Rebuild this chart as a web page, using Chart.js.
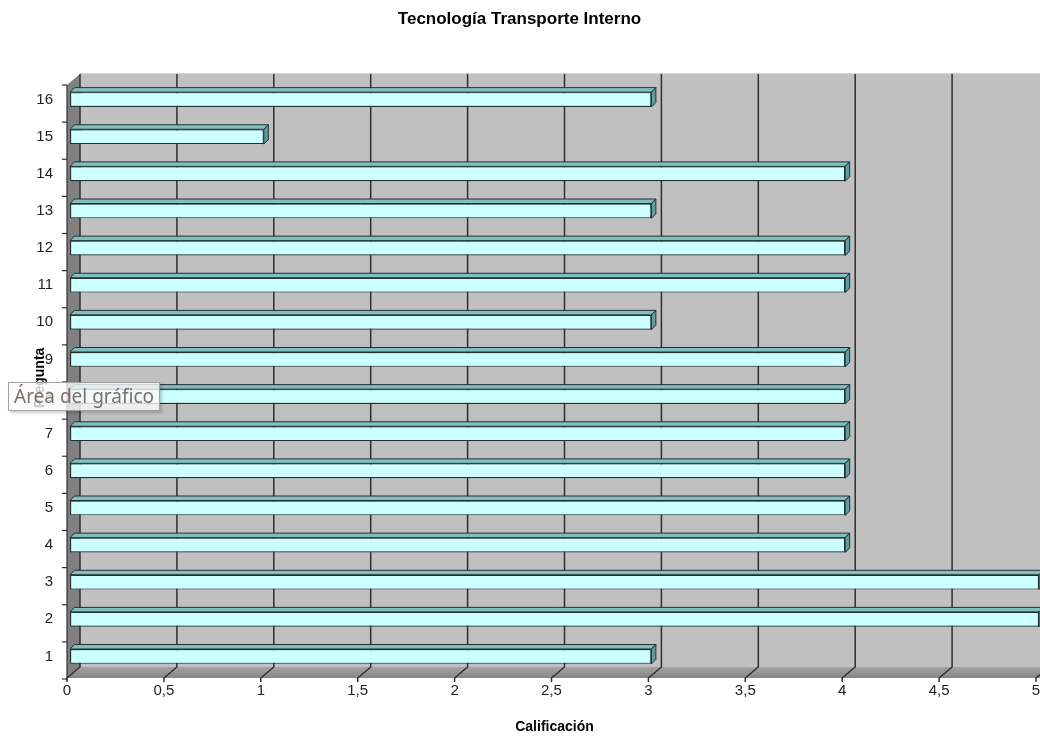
<!DOCTYPE html>
<html><head><meta charset="utf-8">
<script src="https://cdn.jsdelivr.net/npm/chart.js@4/dist/chart.umd.min.js"></script>
<style>
html,body{margin:0;padding:0;background:#fff;}
#wrap{position:relative;width:1040px;height:736px;overflow:hidden;}
#tip{position:absolute;left:8px;top:382px;height:27px;padding:0 5px;line-height:27px;
 font-family:"Noto Sans",sans-serif;font-size:19px;color:#7a7066;background:rgba(250,250,250,0.8);
 border:1px solid #a0a0a0;box-shadow:2px 2px 3px rgba(0,0,0,0.2);white-space:nowrap;letter-spacing:0px;}
</style></head><body>
<div id="wrap"><canvas id="c" width="1040" height="736"></canvas><div id="tip">Área del gráfico</div></div>
<script>
const categories = ['1','2','3','4','5','6','7','8','9','10','11','12','13','14','15','16'];
const calificacion = [3,5,5,4,4,4,4,4,4,3,4,4,3,4,1,3];
const xTickLabels = ['0','0,5','1','1,5','2','2,5','3','3,5','4','4,5','5'];
const chartTitle = 'Tecnología Transporte Interno';
const xTitle = 'Calificación';
const yTitle = 'Pregunta';

const FONT = '"Liberation Sans", Arial, sans-serif';

const box3d = {
  id: 'box3d',
  beforeDraw(chart) {
    const {ctx, chartArea: ca, scales: {x, y}} = chart;
    const W = chart.width;
    const fx = v => x.getPixelForValue(v) - 3;
    const bx = v => fx(v) + 13;
    const fTop = ca.top + 4, fBot = ca.bottom + 3, bTop = fTop - 11, bBot = fBot - 11;
    ctx.save();
    ctx.fillStyle = '#c0c0c0';
    ctx.fillRect(bx(0), bTop, W - bx(0), bBot - bTop);
    ctx.strokeStyle = '#d6d6d6'; ctx.lineWidth = 1;
    ctx.beginPath(); ctx.moveTo(bx(0), bTop - 0.5); ctx.lineTo(W, bTop - 0.5); ctx.stroke();
    ctx.fillStyle = '#808080';
    ctx.beginPath(); ctx.moveTo(fx(0), fTop); ctx.lineTo(bx(0), bTop); ctx.lineTo(bx(0), bBot); ctx.lineTo(fx(0), fBot); ctx.closePath(); ctx.fill();
    const g = ctx.createLinearGradient(0, bBot, 0, fBot);
    g.addColorStop(0, '#a4a4a4'); g.addColorStop(1, '#858585');
    ctx.fillStyle = g;
    ctx.beginPath(); ctx.moveTo(fx(0), fBot); ctx.lineTo(bx(0), bBot); ctx.lineTo(W, bBot); ctx.lineTo(W, fBot); ctx.closePath(); ctx.fill();
    ctx.strokeStyle = '#2f2f2f'; ctx.lineWidth = 1.5;
    x.ticks.forEach(t => {
      ctx.beginPath();
      ctx.moveTo(bx(t.value), bTop); ctx.lineTo(bx(t.value), bBot);
      ctx.lineTo(fx(t.value), fBot); ctx.lineTo(fx(t.value), fBot + 4);
      ctx.stroke();
    });
    ctx.lineWidth = 1.2;
    ctx.beginPath(); ctx.moveTo(fx(0), fTop); ctx.lineTo(fx(0), fBot + 2); ctx.stroke();
    const n = categories.length;
    const step = (ca.bottom - ca.top) / n;
    for (let k = 0; k <= n; k++) {
      const yy = ca.top + k * step + 4;
      ctx.beginPath(); ctx.moveTo(fx(0) - 5, yy); ctx.lineTo(fx(0), yy); ctx.stroke();
    }
    ctx.restore();
  },
  afterDatasetsDraw(chart) {
    const {ctx} = chart;
    const meta = chart.getDatasetMeta(0);
    const d = 4.5;
    ctx.save();
    ctx.lineWidth = 1; ctx.strokeStyle = '#223030';
    meta.data.forEach(el => {
      const p = el.getProps(['x','y','base','height'], true);
      const top = p.y - p.height / 2, bot = p.y + p.height / 2;
      ctx.fillStyle = '#80bfbf';
      ctx.beginPath();
      ctx.moveTo(p.base, top); ctx.lineTo(p.base + d, top - d); ctx.lineTo(p.x + d, top - d); ctx.lineTo(p.x, top); ctx.closePath();
      ctx.fill(); ctx.stroke();
      ctx.fillStyle = '#5f9c9c';
      ctx.beginPath();
      ctx.moveTo(p.x, top); ctx.lineTo(p.x + d, top - d); ctx.lineTo(p.x + d, bot - d); ctx.lineTo(p.x, bot); ctx.closePath();
      ctx.fill(); ctx.stroke();
    });
    ctx.restore();
  }
};

new Chart(document.getElementById('c'), {
  type: 'bar',
  data: {
    labels: categories,
    datasets: [{
      label: xTitle,
      data: calificacion,
      backgroundColor: '#ccffff',
      borderColor: '#223030',
      borderWidth: 1.2,
      borderSkipped: false,
      categoryPercentage: 1,
      barPercentage: 0.4
    }]
  },
  options: {
    indexAxis: 'y',
    responsive: false,
    animation: false,
    events: [],
    layout: { padding: { left: 0, right: 1, top: 0, bottom: 0 } },
    plugins: {
      legend: { display: false },
      tooltip: { enabled: false },
      title: {
        display: true, text: chartTitle, color: '#000',
        font: { family: FONT, size: 17, weight: 'bold', lineHeight: 1.2 },
        padding: { top: 9.5, bottom: 51.1 }
      }
    },
    scales: {
      x: {
        type: 'linear', min: 0, max: 5,
        grid: { display: false, drawTicks: false },
        border: { display: false },
        ticks: {
          stepSize: 0.5, padding: 7, labelOffset: -3, color: '#222', maxRotation: 0,
          font: { family: FONT, size: 15 },
          callback: (v, i) => xTickLabels[i]
        },
        title: { display: true, text: xTitle, color: '#000', padding: 0,
          font: { family: FONT, size: 14, weight: 'bold' } },
        afterFit: s => { s.height = 61; s.paddingLeft = 0; s.paddingRight = 0; }
      },
      y: {
        reverse: true,
        grid: { display: false, drawTicks: false },
        border: { display: false },
        ticks: { padding: 17, color: '#222', font: { family: FONT, size: 15 } },
        title: { display: true, text: yTitle, color: '#000', padding: { top: 31.6, bottom: 0 },
          font: { family: FONT, size: 14, weight: 'bold' } },
        afterFit: s => { s.width = 70; s.paddingTop = 0; s.paddingBottom = 0; }
      }
    }
  },
  plugins: [box3d]
});
</script>
</body></html>
